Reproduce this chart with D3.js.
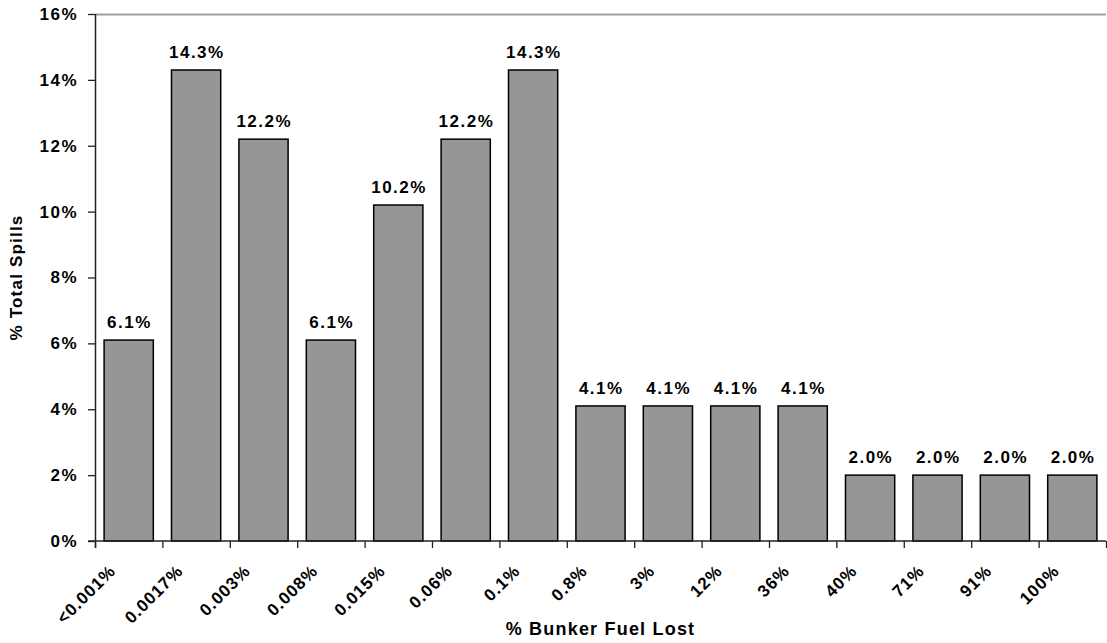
<!DOCTYPE html>
<html>
<head>
<meta charset="utf-8">
<script src="https://cdn.jsdelivr.net/npm/d3@7"></script>
<style>
  body { margin: 0; background: #fff; }
  text { font-family: "Liberation Sans", Arial, sans-serif; font-weight: bold; fill: #000; }
</style>
</head>
<body>
<div id="chart"></div>
<script>
const categories = ["<0.001%", "0.0017%", "0.003%", "0.008%", "0.015%", "0.06%", "0.1%",
  "0.8%", "3%", "12%", "36%", "40%", "71%", "91%", "100%"]
const values = [6.1, 14.3, 12.2, 6.1, 10.2, 12.2, 14.3, 4.1, 4.1, 4.1, 4.1, 2.0, 2.0, 2.0, 2.0]
const yTicks = [0, 2, 4, 6, 8, 10, 12, 14, 16]

const W = 1107, H = 643
const MARGIN = {TOP: 14, RIGHT: 1, BOTTOM: 102, LEFT: 95}
const WIDTH = W - MARGIN.LEFT - MARGIN.RIGHT
const HEIGHT = H - MARGIN.TOP - MARGIN.BOTTOM

const svg = d3.select("#chart").append("svg")
  .attr("width", W)
  .attr("height", H)

const g = svg.append("g")
  .attr("transform", `translate(${MARGIN.LEFT}, ${MARGIN.TOP})`)

// one slot per category, bars sit in the middle of each slot
const slot = d3.scaleBand()
  .domain(categories)
  .range([0, WIDTH])
  .padding(0)

const x = d3.scaleBand()
  .domain(categories)
  .range([0, WIDTH])
  .paddingInner(0.27)
  .paddingOuter(0.135)

const y = d3.scaleLinear()
  .domain([0, 16])
  .range([HEIGHT, 0])

// top border
g.append("line")
  .attr("x1", 0).attr("x2", WIDTH)
  .attr("y1", 0.5).attr("y2", 0.5)
  .attr("stroke", "#a0a0a0")
  .attr("stroke-width", 2)

// bars
g.selectAll("rect.bar")
  .data(values)
  .enter().append("rect")
  .attr("class", "bar")
  .attr("x", (d, i) => x(categories[i]))
  .attr("y", d => y(d))
  .attr("width", x.bandwidth())
  .attr("height", d => HEIGHT - y(d))
  .attr("fill", "#969696")
  .attr("stroke", "#000")
  .attr("stroke-width", 1.5)

// value labels
g.selectAll("text.val")
  .data(values)
  .enter().append("text")
  .attr("class", "val")
  .attr("x", (d, i) => x(categories[i]) + x.bandwidth() / 2 + 0.75)
  .attr("y", d => y(d) - 12)
  .attr("text-anchor", "middle")
  .attr("font-size", "17px")
  .attr("letter-spacing", "1.5px")
  .text(d => d.toFixed(1) + "%")

// y axis
const yAxis = g.append("g")
  .call(d3.axisLeft(y)
    .tickValues(yTicks)
    .tickSize(7)
    .tickPadding(10)
    .tickFormat(d => d + "%"))
yAxis.select(".domain")
  .attr("d", `M0.5,0V${HEIGHT + 7}`)
  .attr("stroke", "#222")
  .attr("stroke-width", 1.5)
yAxis.selectAll(".tick line").attr("stroke", "#222").attr("stroke-width", 1.3)
yAxis.selectAll(".tick text")
  .attr("font-size", "17px")
  .attr("font-family", "Liberation Sans, Arial, sans-serif")
  .attr("font-weight", "bold")
  .attr("letter-spacing", "1.5px")
  .attr("fill", "#000")

// x axis line + boundary ticks
g.append("line")
  .attr("x1", -7).attr("x2", WIDTH)
  .attr("y1", HEIGHT).attr("y2", HEIGHT)
  .attr("stroke", "#222")
  .attr("stroke-width", 1.5)

const bounds = categories.map(c => slot(c)).concat([WIDTH])
g.selectAll("line.xtick")
  .data(bounds)
  .enter().append("line")
  .attr("class", "xtick")
  .attr("x1", d => d + 0.5).attr("x2", d => d + 0.5)
  .attr("y1", HEIGHT).attr("y2", HEIGHT + 7)
  .attr("stroke", "#222")
  .attr("stroke-width", 1.3)

// category labels
g.selectAll("text.cat")
  .data(categories)
  .enter().append("text")
  .attr("class", "cat")
  .attr("text-anchor", "end")
  .attr("font-size", "17px")
  .attr("letter-spacing", "1px")
  .attr("transform", d => `translate(${slot(d) + slot.bandwidth() / 2 - 12}, ${HEIGHT + 31}) rotate(-45)`)
  .text(d => d)

// axis titles
g.append("text")
  .attr("x", WIDTH / 2)
  .attr("y", HEIGHT + 94)
  .attr("text-anchor", "middle")
  .attr("font-size", "18px")
  .attr("letter-spacing", "1.2px")
  .text("% Bunker Fuel Lost")

g.append("text")
  .attr("transform", `translate(${22 - MARGIN.LEFT}, ${HEIGHT / 2}) rotate(-90)`)
  .attr("text-anchor", "middle")
  .attr("font-size", "17px")
  .attr("letter-spacing", "1.2px")
  .text("% Total Spills")
</script>
</body>
</html>
